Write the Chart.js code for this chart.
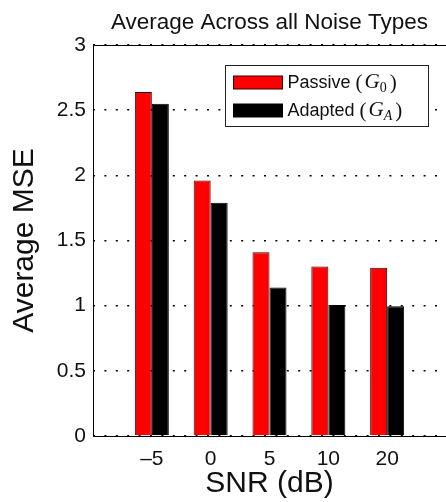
<!DOCTYPE html>
<html>
<head>
<meta charset="utf-8">
<script src="https://cdn.jsdelivr.net/npm/chart.js@4/dist/chart.umd.min.js"></script>
<style>
  html, body { margin: 0; padding: 0; background: #fff; overflow: hidden; }
  #wrap { width: 446px; height: 502px; position: relative; }
</style>
</head>
<body>
<div id="wrap"><canvas id="c" width="446" height="502"></canvas></div>
<script>
// ---- data ----
const categories = ['\u20135', '0', '5', '10', '20'];
const passive = [2.64, 1.96, 1.41, 1.30, 1.29];
const adapted = [2.55, 1.79, 1.14, 1.005, 0.995];
const yTicks = [0, 0.5, 1, 1.5, 2, 2.5, 3];
const yTickLabels = ['0', '0.5', '1', '1.5', '2', '2.5', '3'];
const seriesNames = ['Passive', 'Adapted'];
const seriesSymbols = [['G', '0'], ['G', 'A']];

const SANS = '"Liberation Sans", Arial, Helvetica, sans-serif';
const SERIF = '"Liberation Serif", "DejaVu Serif", "Times New Roman", serif';

// pad the category axis with empty slots on both sides (MATLAB-like xlim [0, n+1])
const labels = [''].concat(categories, ['']);
const pad = arr => [null].concat(arr, [null]);

const boxPlugin = {
  id: 'boxAndLegend',
  afterDraw(chart) {
    const ctx = chart.ctx;
    const a = chart.chartArea;
    ctx.save();
    // axes box (left, top, bottom)
    ctx.strokeStyle = '#000';
    ctx.lineWidth = 1;
    ctx.setLineDash([]);
    ctx.beginPath();
    ctx.moveTo(a.right + 2, Math.round(a.top) + 0.5);
    ctx.lineTo(Math.round(a.left) + 0.5, Math.round(a.top) + 0.5);
    ctx.lineTo(Math.round(a.left) + 0.5, Math.round(a.bottom) + 0.5);
    ctx.lineTo(a.right + 2, Math.round(a.bottom) + 0.5);
    ctx.stroke();

    // legend
    const bx = Math.round(a.right) - 221 + 0.5, by = Math.round(a.top) + 20 + 0.5;
    const bw = 203, bh = 61;
    ctx.fillStyle = '#fff';
    ctx.fillRect(bx, by, bw, bh);
    ctx.strokeStyle = '#222';
    ctx.strokeRect(bx, by, bw, bh);
    chart.data.datasets.forEach((ds, i) => {
      const py = by + 10.5 + i * 28;
      ctx.fillStyle = ds.backgroundColor;
      ctx.fillRect(bx + 8, py, 49, 13);
      ctx.strokeStyle = ds.borderColor;
      ctx.strokeRect(bx + 8, py, 49, 13);
      let x = bx + 62;
      const base = py + 12;
      ctx.fillStyle = '#111';
      ctx.textBaseline = 'alphabetic';
      ctx.textAlign = 'left';
      ctx.font = '18px ' + SANS;
      const name = seriesNames[i] + ' ';
      ctx.fillText(name, x, base);
      x += ctx.measureText(name).width;
      ctx.font = '21px ' + SERIF;
      ctx.fillText('(', x, base + 1);
      x += ctx.measureText('(').width + 2;
      ctx.font = 'italic 21px ' + SERIF;
      ctx.fillText(seriesSymbols[i][0], x, base);
      x += ctx.measureText(seriesSymbols[i][0]).width;
      const sub = seriesSymbols[i][1];
      ctx.font = (sub === 'A' ? 'italic ' : '') + '14px ' + SERIF;
      ctx.fillText(sub, x, base + 4);
      x += ctx.measureText(sub).width + 3;
      ctx.font = '21px ' + SERIF;
      ctx.fillText(')', x, base + 1);
    });
    ctx.restore();
  }
};

new Chart(document.getElementById('c'), {
  type: 'bar',
  data: {
    labels: labels,
    datasets: [
      { label: seriesNames[0], data: pad(passive), backgroundColor: '#ff0000', borderColor: '#300000', borderWidth: 1 },
      { label: seriesNames[1], data: pad(adapted), backgroundColor: '#000000', borderColor: '#000000', borderWidth: 1 }
    ]
  },
  options: {
    responsive: false,
    animation: false,
    events: [],
    layout: { padding: 0 },
    datasets: { bar: { categoryPercentage: 0.578, barPercentage: 1.0 } },
    plugins: {
      legend: { display: false },
      tooltip: { enabled: false },
      title: {
        display: true,
        text: 'Average Across all Noise Types',
        fullSize: false,
        color: '#111',
        font: { family: SANS, size: 22.5, weight: 'normal', lineHeight: 1.2 },
        padding: { top: 9, bottom: 9 }
      }
    },
    scales: {
      x: {
        type: 'category',
        offset: false,
        grid: { display: false, drawTicks: false },
        border: { display: false },
        ticks: {
          color: '#111',
          font: { family: SANS, size: 21 },
          padding: 10.4,
          maxRotation: 0,
          autoSkip: false
        },
        title: {
          display: true,
          text: 'SNR (dB)',
          color: '#111',
          font: { family: SANS, size: 30, lineHeight: 1.0 },
          padding: { top: 0, bottom: 3 }
        },
        afterFit(scale) { scale.height = 66; scale.paddingLeft = 0; scale.paddingRight = 0; }
      },
      y: {
        min: 0,
        max: 3,
        afterBuildTicks(scale) { scale.ticks = yTicks.map(v => ({ value: v })); },
        grid: { color: '#000', lineWidth: 1.6, drawTicks: false },
        border: { display: false, dash: [2, 9.4] },
        ticks: {
          color: '#111',
          font: { family: SANS, size: 21 },
          padding: 7,
          callback: (v, i) => yTickLabels[i]
        },
        title: {
          display: true,
          text: 'Average MSE',
          color: '#111',
          font: { family: SANS, size: 30, lineHeight: 1.0 },
          padding: { top: 10, bottom: 0 }
        },
        afterFit(scale) { scale.width = 93; }
      }
    }
  },
  plugins: [boxPlugin]
});
</script>
</body>
</html>
